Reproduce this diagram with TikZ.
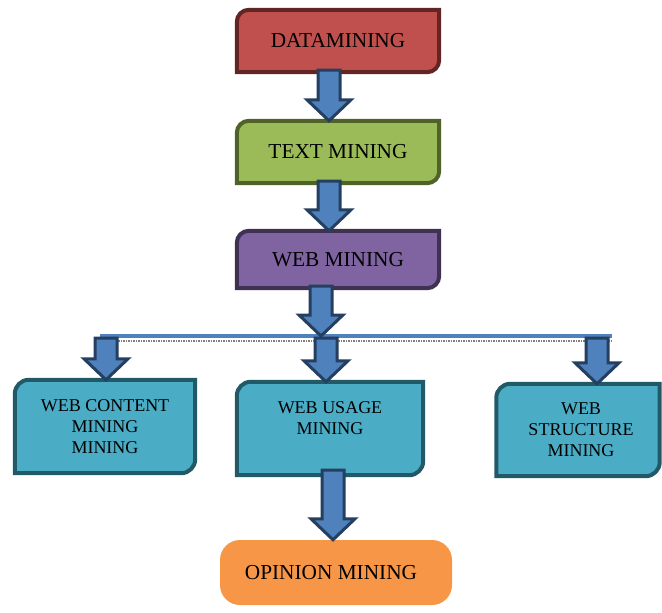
\documentclass[tikz,border=0pt]{standalone}
\usepackage{fontspec}
\setmainfont{Liberation Serif}
\usetikzlibrary{calc,backgrounds}
\definecolor{dmred}{HTML}{C0504D}
\definecolor{dmredline}{HTML}{632523}
\definecolor{tmgreen}{HTML}{9BBB59}
\definecolor{tmgreenline}{HTML}{4F6228}
\definecolor{wmviolet}{HTML}{8064A2}
\definecolor{wmvioletline}{HTML}{3F3151}
\definecolor{subteal}{HTML}{4BACC6}
\definecolor{subtealline}{HTML}{215967}
\definecolor{omorange}{HTML}{F79646}
\definecolor{arrowblue}{HTML}{4F81BD}
\definecolor{arrowdark}{HTML}{243F60}
\tikzset{topbox/.style={minimum width=202pt,minimum height=62pt,inner sep=0pt,align=center},
  lowbox/.style={font=\fontsize{18}{21}\selectfont,inner sep=0pt,align=center},
  barrow/.style={fill=arrowblue,draw=arrowdark,line width=3pt,line join=miter}}
% box with two rounded corners (top left, bottom right), drawn behind the node
\newcommand{\diagbox}[4]{%
\begin{pgfonlayer}{background}
\draw[line width=4pt,fill=#2,draw=#3] ($(#1.north west)+(0,#4)$) arc[start angle=180,end angle=90,radius=#4pt]
  -- (#1.north east) -- ($(#1.south east)+(0,-#4)$) arc[start angle=0,end angle=-90,radius=#4pt]
  -- (#1.south west) -- cycle;
\end{pgfonlayer}}
% block arrow pointing down from #1 to the height of #2
\newcommand{\blockarrow}[2]{%
\draw[barrow] let \p1=(#1), \p2=(#2) in (\x1-11pt,\y1) -- (\x1-11pt,\y2+21pt) -- (\x1-22pt,\y2+21pt)
  -- (\x1,\y2) -- (\x1+22pt,\y2+21pt) -- (\x1+11pt,\y2+21pt) -- (\x1+11pt,\y1) -- cycle;}

\begin{document}
\begin{tikzpicture}[x=1pt,y=-1pt,line join=round,font=\fontsize{21.3}{21}\selectfont]
\useasboundingbox (0,0) rectangle (662,613);
% --- top chain
\node[topbox] (dm) at (338,41) {DATAMINING};
\node[topbox] (tm) at (338,152) {TEXT MINING};
\node[topbox,minimum height=57pt] (wm) at (338,259.5) {WEB MINING};
\diagbox{dm}{dmred}{dmredline}{12}
\diagbox{tm}{tmgreen}{tmgreenline}{12}
\diagbox{wm}{wmviolet}{wmvioletline}{12}
\blockarrow{$(dm.south)+(-9,-2)$}{tm.north}
\blockarrow{$(tm.south)+(-9,-2)$}{wm.north}
% --- bar
\coordinate (barL) at (100,336);
\coordinate (barR) at (612,336);
\draw[gray,densely dotted,line width=1.5pt] ($(barL)+(18,5)$) -- ($(barR)+(0,5)$);
\draw[arrowblue,line width=4pt] (barL) -- (barR);
\blockarrow{$(wm.south)+(-17,-2)$}{barL}
% --- three branches
\node[lowbox,minimum width=180pt,minimum height=93pt] (wcm) at (105,426.5) {WEB CONTENT\\MINING\\MINING};
\node[lowbox,minimum width=186pt,minimum height=93pt] (wum) at (330,428.5) {WEB USAGE\\MINING\\\mbox{}};
\node[lowbox,minimum width=163pt,minimum height=92pt] (wsm) at (578,430) {\hspace{6pt}WEB\\\hspace{6pt}STRUCTURE\\\hspace{6pt}MINING};
\diagbox{wcm}{subteal}{subtealline}{14}
\diagbox{wum}{subteal}{subtealline}{14}
\diagbox{wsm}{subteal}{subtealline}{14}
\coordinate (s1) at (106,338);
\coordinate (s2) at (326,338);
\coordinate (s3) at (597,338);
\blockarrow{s1}{wcm.north}
\blockarrow{s2}{wum.north}
\blockarrow{s3}{wsm.north}
% --- opinion mining
\node[fill=omorange,rounded corners=20pt,minimum width=232pt,minimum height=65pt,inner sep=0pt] (om) at (336,572.5) {\hspace{-10pt}OPINION MINING};
\blockarrow{$(wum.south)+(3,-5)$}{om.north}
\end{tikzpicture}
\end{document}
